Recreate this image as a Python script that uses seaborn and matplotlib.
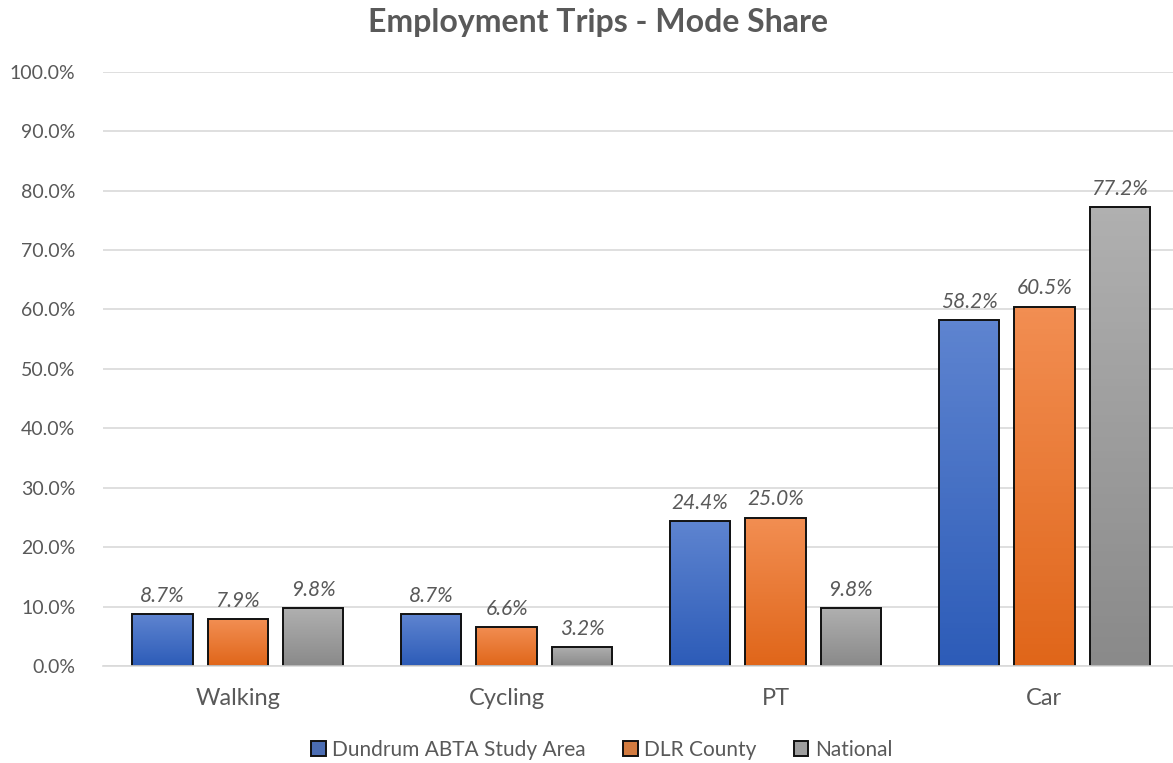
"""
Employment Trips - Mode Share: grouped bar chart with Excel-style gradient bars.
"""

import matplotlib
matplotlib.use("Agg")
import matplotlib.pyplot as plt
import numpy as np
import pandas as pd
import seaborn as sns
from matplotlib.colors import LinearSegmentedColormap
from matplotlib.ticker import FuncFormatter, MultipleLocator

# ── Data ───────────────────────────────────────────────────────────────────────
MODES = ["Walking", "Cycling", "PT", "Car"]
AREAS = ["Dundrum ABTA Study Area", "DLR County", "National"]
DUNDRUM = [8.7, 8.7, 24.4, 58.2]
DLR_COUNTY = [7.9, 6.6, 25.0, 60.5]
NATIONAL = [9.8, 3.2, 9.8, 77.2]

BASE_COLOURS = ["#3a67c4", "#ea7628", "#9e9e9e"]
GRADIENTS = [("#5e84d0", "#2d5cb8"), ("#f28e52", "#e0661a"), ("#b0b0b0", "#8a8a8a")]

TEXT = "#595959"

df = pd.DataFrame({
    "Mode": MODES * 3,
    "Area": [a for a in AREAS for _ in MODES],
    "Share": DUNDRUM + DLR_COUNTY + NATIONAL,
})

sns.set_theme(style="white")
plt.rcParams["font.family"] = ["Lato", "DejaVu Sans"]

fig = plt.figure(figsize=(11.73, 7.63), dpi=100)
ax = fig.add_axes([0.088, 0.127, 0.917, 0.779])

sns.barplot(
    data=df, x="Mode", y="Share", hue="Area",
    order=MODES, hue_order=AREAS, palette=BASE_COLOURS,
    width=0.84, gap=0.2, edgecolor="#111111", linewidth=1.4,
    errorbar=None, ax=ax,
)

# gradient fill inside each bar
for container, (top, bottom) in zip(ax.containers, GRADIENTS):
    cmap = LinearSegmentedColormap.from_list("g", [bottom, top])
    for patch in container.patches:
        x0, y0 = patch.get_x(), patch.get_y()
        w, h = patch.get_width(), patch.get_height()
        patch.set_facecolor("none")
        im = ax.imshow(
            np.linspace(0, 1, 64).reshape(-1, 1), cmap=cmap, origin="lower",
            extent=[x0, x0 + w, y0, y0 + h], aspect="auto",
            zorder=patch.get_zorder() - 0.1,
        )
        im.set_clip_path(patch)
    ax.bar_label(
        container, labels=[f"{v:.1f}%" for v in container.datavalues],
        padding=6, fontsize=15, fontstyle="italic", color=TEXT,
    )

ax.set_xlim(-0.5, 3.5)
ax.set_ylim(0, 100)
ax.yaxis.set_major_locator(MultipleLocator(10))
ax.yaxis.set_major_formatter(FuncFormatter(lambda v, _: f"{v:.1f}%"))
ax.grid(axis="y", color="#d9d9d9", linewidth=1.2)
ax.set_axisbelow(True)
for side in ["top", "right", "left"]:
    ax.spines[side].set_visible(False)
ax.spines["bottom"].set_color("#d9d9d9")
ax.spines["bottom"].set_linewidth(1.2)
ax.tick_params(axis="y", labelsize=14, labelcolor=TEXT, length=0, pad=20)
ax.tick_params(axis="x", labelsize=17, labelcolor=TEXT, length=0, pad=16)
ax.set_xlabel("")
ax.set_ylabel("")

fig.text(0.51, 0.97, "Employment Trips - Mode Share", ha="center", va="center",
         fontsize=23, fontweight="bold", color=TEXT)

sns.move_legend(
    ax, "center", bbox_to_anchor=(0.513, 0.017), bbox_transform=fig.transFigure,
    ncol=3, frameon=False, title=None, fontsize=15, handlelength=0.7,
    handleheight=0.7, columnspacing=1.8, handletextpad=0.3,
)
for t in ax.get_legend().get_texts():
    t.set_color(TEXT)

fig.savefig("out.png", dpi=100)
plt.close(fig)
